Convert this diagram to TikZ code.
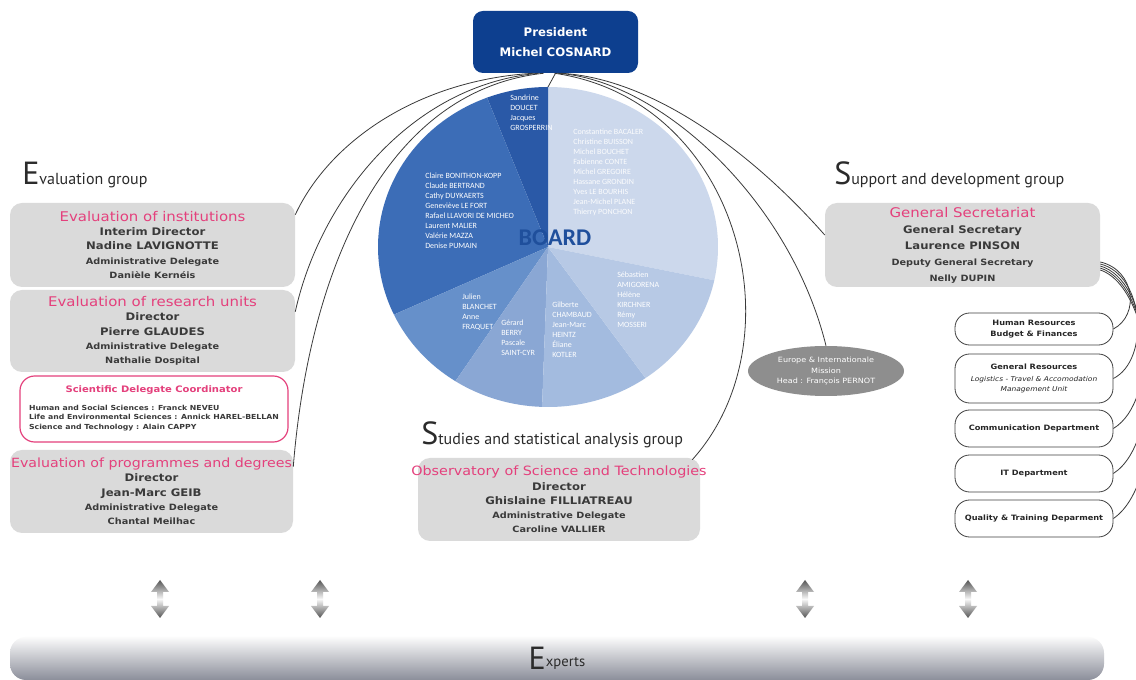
\documentclass[tikz,border=0pt]{standalone}
\usepackage{fontspec}
\setmainfont{DejaVu Sans}
\newfontfamily\bxf[FakeStretch=1.12]{DejaVu Sans}
\newfontfamily\hdf{PT Sans}
\newfontfamily\pief{Carlito}
\usetikzlibrary{shapes.geometric,calc}
\definecolor{presblue}{HTML}{0D3F8F}
\definecolor{pinkt}{HTML}{E4407C}
\definecolor{boxgray}{HTML}{DADADA}
\definecolor{txtgray}{HTML}{3A3A3A}
\definecolor{linec}{HTML}{3A3A3A}
\definecolor{hdc}{HTML}{2B2B2B}
\definecolor{boardc}{HTML}{1F4F9C}
\definecolor{eurogray}{HTML}{8E8E8E}
\definecolor{arrd}{HTML}{555555}
\definecolor{barbot}{HTML}{8B8E9A}
\definecolor{pA}{HTML}{CCD8EC}
\definecolor{pB}{HTML}{B7C9E5}
\definecolor{pC}{HTML}{A3BBDF}
\definecolor{pD}{HTML}{8AA7D4}
\definecolor{pE}{HTML}{6690CA}
\definecolor{pF}{HTML}{3C6DB7}
\definecolor{pG}{HTML}{2A59A7}
\newcommand\ttl[2][10]{\makebox[0pt][c]{\fontsize{#1}{10.7}\selectfont\mdseries\color{pinkt}#2}}
\newcommand\smb{\fontsize{6.5}{10.7}\selectfont}
\newcommand\bigE[1]{{\fontsize{24}{24}\selectfont #1}}
\begin{document}
\begin{tikzpicture}[x=0.75pt,y=-0.75pt,
  gbox/.style={rectangle, rounded corners=9pt, fill=boxgray, inner sep=0pt, align=center,
    text=txtgray, font={\bxf\bfseries\fontsize{7.8}{10.7}\selectfont}},
  svc/.style={rectangle, rounded corners=11pt, draw=black!75, line width=0.6pt, fill=white,
    inner sep=0pt, align=center, text=black!85, minimum width=118.5pt,
    font={\bxf\bfseries\fontsize{5.5}{8}\selectfont}},
  hd/.style={anchor=base west, inner sep=0pt, text=hdc, font={\hdf\fontsize{12}{14}\selectfont}},
  pietxt/.style={anchor=north west, inner sep=0pt, text=white, align=left,
    font={\pief\fontsize{6}{7.5}\selectfont}},
  conn/.style={draw=linec, line width=0.6pt}]
\useasboundingbox (0,0) rectangle (1136,680);
\fill[white] (0,0) rectangle (1136,680);

% ---------------- pie (board) ----------------
\coordinate (board) at (548,247);
\coordinate (pietop) at (548,87);
\begin{scope}[shift={(548,247)}, yscale=-1]
  \fill[pA] (0,0) -- (-12:170 and 160) arc[start angle=-12, end angle=90, x radius=170, y radius=160] -- cycle;
  \fill[pG] (0,0) -- (90:170 and 160) arc[start angle=90, end angle=111, x radius=170, y radius=160] -- cycle;
  \fill[pF] (0,0) -- (111:170 and 160) arc[start angle=111, end angle=205, x radius=170, y radius=160] -- cycle;
  \fill[pE] (0,0) -- (205:170 and 160) arc[start angle=205, end angle=237, x radius=170, y radius=160] -- cycle;
  \fill[pD] (0,0) -- (237:170 and 160) arc[start angle=237, end angle=268, x radius=170, y radius=160] -- cycle;
  \fill[pC] (0,0) -- (268:170 and 160) arc[start angle=268, end angle=305, x radius=170, y radius=160] -- cycle;
  \fill[pB] (0,0) -- (305:170 and 160) arc[start angle=305, end angle=348, x radius=170, y radius=160] -- cycle;
\end{scope}

\node[pietxt] (tsand) at (510,95) {Sandrine\\DOUCET\\Jacques\\GROSPERRIN};
\node[pietxt] (tclaire) at (425,173) {Claire BONITHON-KOPP\\Claude BERTRAND\\Cathy DUYKAERTS\\Geneviève LE FORT\\Rafael LLAVORI DE MICHEO\\Laurent MALIER\\Valérie MAZZA\\Denise PUMAIN};
\node[pietxt, text=white!92!pA] (tlight) at (573,129) {Constantine BACALER\\Christine BUISSON\\Michel BOUCHET\\Fabienne CONTE\\Michel GREGOIRE\\Hassane GRONDIN\\Yves LE BOURHIS\\Jean-Michel PLANE\\Thierry PONCHON};
\node[pietxt] (tjul) at (462,294) {Julien\\BLANCHET\\Anne\\FRAQUET};
\node[pietxt] (tger) at (501,320) {Gérard\\BERRY\\Pascale\\SAINT-CYR};
\node[pietxt] (tgil) at (552,302) {Gilberte\\CHAMBAUD\\Jean-Marc\\HEINTZ\\Éliane\\KOTLER};
\node[pietxt] (tseb) at (617,272) {Sébastien\\AMIGORENA\\Hélène\\KIRCHNER\\Rémy\\MOSSERI};
\node[inner sep=0pt, text=boardc, font={\pief\bfseries\fontsize{18}{18}\selectfont}] (boardlbl) at (555,238) {BOARD};

% ---------------- president ----------------
\node[rectangle, rounded corners=7.5pt, fill=presblue, text=white, align=center, inner sep=0pt,
  minimum width=123.75pt, minimum height=46.5pt,
  font={\bfseries\fontsize{8.8}{15}\selectfont}] (pres) at (555.5,42) {President\\Michel COSNARD};

% ---------------- headings ----------------
\node[hd] (evalhd) at (22,185) {\bigE{E}valuation group};
\node[hd] (supphd) at (834,185) {\bigE{S}upport and development group};
\node[hd] (studhd) at (421,445) {\bigE{S}tudies and statistical analysis group};

% ---------------- left boxes ----------------
\node[gbox, minimum width=213.75pt, minimum height=63pt] (inst) at (152.5,245)
  {\ttl{Evaluation of institutions}\\Interim Director\\Nadine LAVIGNOTTE\\{\smb Administrative Delegate}\\{\smb Danièle Kernéis}};
\node[gbox, minimum width=213.75pt, minimum height=61.5pt] (res) at (152.5,331)
  {\ttl{Evaluation of research units}\\Director\\Pierre GLAUDES\\{\smb Administrative Delegate}\\{\smb Nathalie Dospital}};
\node[rectangle, rounded corners=11pt, draw=pinkt, line width=0.9pt, fill=white, inner sep=0pt,
  minimum width=201pt, minimum height=49.5pt, text=txtgray,
  font={\bxf\bfseries\fontsize{5.2}{7.1}\selectfont}] (sci) at (154,409)
  {\begin{tabular}{@{}l@{}}\multicolumn{1}{c}{\fontsize{6.7}{7.1}\selectfont\color{pinkt}Scientific Delegate Coordinator}\\[6pt]
   Human and Social Sciences : Franck NEVEU\\
   Life and Environmental Sciences : Annick HAREL-BELLAN\\
   Science and Technology : Alain CAPPY\end{tabular}};
\node[gbox, minimum width=212.25pt, minimum height=62.25pt] (prog) at (151.5,491.5)
  {\ttl[9.5]{Evaluation of programmes and degrees}\\Director\\Jean-Marc GEIB\\{\smb Administrative Delegate}\\{\smb Chantal Meilhac}};

% ---------------- studies box ----------------
\node[gbox, minimum width=211.5pt, minimum height=62.25pt] (stud) at (559,499.5)
  {\ttl[9.6]{Observatory of Science and Technologies}\\Director\\Ghislaine FILLIATREAU\\{\smb Administrative Delegate}\\{\smb Caroline VALLIER}};

% ---------------- support side ----------------
\node[gbox, minimum width=206.25pt, minimum height=63pt, font={\bxf\bfseries\fontsize{7.8}{12}\selectfont}] (gs) at (962.5,245)
  {\ttl{General Secretariat}\\General Secretary\\Laurence PINSON\\{\smb Deputy General Secretary}\\{\smb Nelly DUPIN}};

\node[ellipse, fill=eurogray, inner sep=0pt, minimum width=117pt, minimum height=37.5pt, text=white,
  align=center, font={\bxf\fontsize{5.4}{8}\selectfont}] (europe) at (826,371)
  {Europe \& Internationale\\Mission\\Head : François PERNOT};

\node[svc, minimum height=24pt] (hr) at (1034,329) {Human Resources\\Budget \& Finances};
\node[svc, minimum height=36.75pt] (gr) at (1034,378.5) {General Resources\\[1pt]{\mdseries\itshape\fontsize{5}{7.5}\selectfont Logistics - Travel \& Accomodation}\\{\mdseries\itshape\fontsize{5}{7.5}\selectfont Management Unit}};
\node[svc, minimum height=27.75pt] (comm) at (1034,428.5) {Communication Department};
\node[svc, minimum height=27.75pt] (it) at (1034,473.5) {IT Department};
\node[svc, minimum height=27.75pt] (qual) at (1034,518.5) {Quality \& Training Deparment};

% ---------------- connectors ----------------
\draw[conn] (pres.south) -- (pietop);
\draw[conn] ($(pres.south)+(-22,0)$) .. controls (420,80) and (330,140) .. ($(inst.north east)+(0,12)$);
\draw[conn] ($(pres.south)+(-17,0)$) .. controls (410,85) and (320,200) .. ($(res.north east)+(0,22)$);
\draw[conn] ($(pres.south)+(-12,0)$) .. controls (390,90) and (310,260) .. ($(prog.north east)+(0,17)$);
\draw[conn] ($(pres.south)+(5,0)$) .. controls (650,78) and (750,150) .. ($(gs.west)+(0,-10)$);
\draw[conn] ($(pres.south)+(2,0)$) .. controls (660,80) and (790,200) .. (europe.north);
\draw[conn] ($(pres.south)+(-1,0)$) .. controls (740,100) and (800,340) .. ($(stud.north east)+(-8,2)$);

\draw[conn] ($(gs.east)+(0,17)$) .. controls (1135,270) and (1140,315) .. (hr.east);
\draw[conn] ($(gs.east)+(0,19)$) .. controls (1145,275) and (1150,360) .. (gr.east);
\draw[conn] ($(gs.east)+(0,21)$) .. controls (1150,280) and (1160,400) .. (comm.east);
\draw[conn] ($(gs.east)+(0,23)$) .. controls (1155,285) and (1165,440) .. (it.east);
\draw[conn] ($(gs.east)+(0,25)$) .. controls (1160,290) and (1170,480) .. (qual.east);

% ---------------- double arrows ----------------
\foreach \ax in {160,320,805,968}{
  \path[top color=arrd, bottom color=arrd, middle color=white!95!gray]
    (\ax,580) -- (\ax+9,592) -- (\ax+3,592) -- (\ax+3,606) -- (\ax+9,606) -- (\ax,618)
    -- (\ax-9,606) -- (\ax-3,606) -- (\ax-3,592) -- (\ax-9,592) -- cycle;
}

% ---------------- experts bar ----------------
\node[rectangle, rounded corners=12pt, top color=white!97!gray, bottom color=barbot, inner sep=0pt,
  minimum width=820.5pt, minimum height=32.25pt, text=hdc,
  font={\hdf\fontsize{11}{12}\selectfont}] (experts) at (557,658.5)
  {\raisebox{-2pt}{\bigE{E}}xperts};
\end{tikzpicture}
\end{document}
